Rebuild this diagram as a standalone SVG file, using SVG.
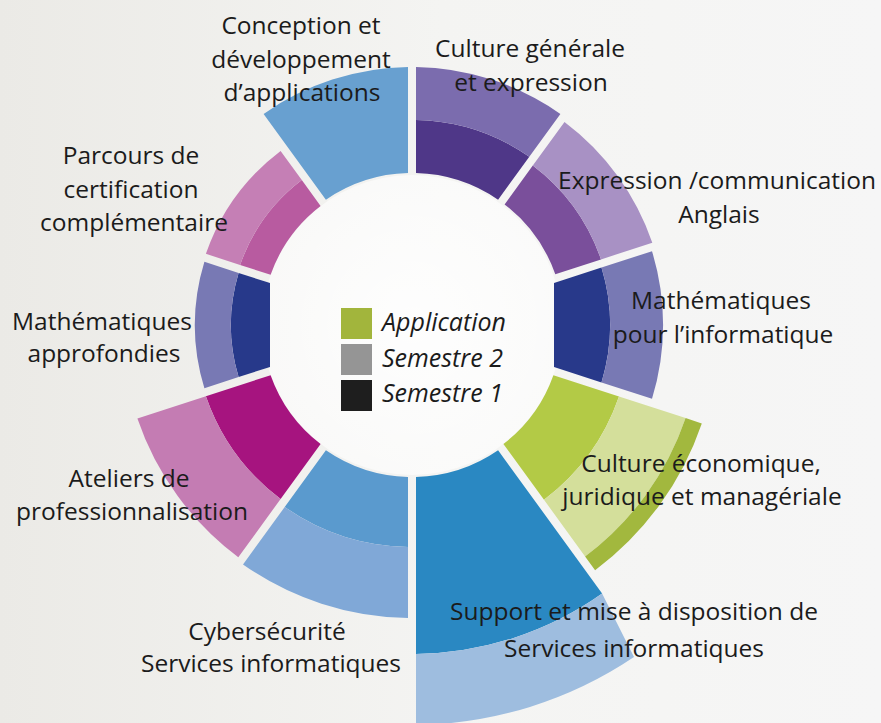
<svg xmlns="http://www.w3.org/2000/svg" width="881" height="723" viewBox="0 0 881 723">
<defs>
<linearGradient id="bg" x1="0" y1="0" x2="1" y2="0">
<stop offset="0" stop-color="#ebeae6"/>
<stop offset="0.5" stop-color="#f4f4f2"/>
<stop offset="1" stop-color="#f6f6f6"/>
</linearGradient>
<radialGradient id="hole" cx="0.5" cy="0.5" r="0.5">
<stop offset="0" stop-color="#ffffff" stop-opacity="0.9"/>
<stop offset="1" stop-color="#ffffff" stop-opacity="0.6"/>
</radialGradient>
</defs>
<style>
.lbl{font-family:"Open Sans","Liberation Sans",sans-serif;font-size:24.5px;fill:#1b1b1b;text-anchor:middle}
.leg{font-family:"Open Sans","Liberation Sans",sans-serif;font-size:25px;font-style:italic;fill:#1b1b1b}
</style>
<rect width="881" height="723" fill="url(#bg)"/>
<circle cx="412" cy="325" r="150" fill="url(#hole)"/>

<g id="conception">
<path d="M325.9,199.7 L263.6,113.9 A258,258 0 0 1 408,67 L408,173 A152,152 0 0 0 325.9,199.7 Z" fill="#68a0d0"/>
<text class="lbl" x="301" y="34">Conception et</text>
<text class="lbl" x="301" y="68">développement</text>
<text class="lbl" x="302" y="101">d’applications</text>
</g>

<g id="culture-generale">
<path d="M416,173 L416,120 A205,205 0 0 1 529.3,156.8 L498.1,199.7 A152,152 0 0 0 416,173 Z" fill="#4f3788"/>
<path d="M416,120 L416,67 A258,258 0 0 1 560.4,113.9 L529.3,156.8 A205,205 0 0 0 416,120 Z" fill="#7b6cae"/>
<text class="lbl" x="530" y="57">Culture générale</text>
<text class="lbl" x="531" y="91">et expression</text>
</g>

<g id="expression-anglais">
<path d="M504.6,204.4 L532.8,165.5 A200,200 0 0 1 601.0,259.4 L555.3,274.2 A152,152 0 0 0 504.6,204.4 Z" fill="#7a4f9b"/>
<path d="M532.8,165.5 L564.5,121.9 A254,254 0 0 1 652.3,242.7 L601.0,259.4 A200,200 0 0 0 532.8,165.5 Z" fill="#a891c4"/>
<text class="lbl" x="717" y="189">Expression /communication</text>
<text class="lbl" x="719" y="223">Anglais</text>
</g>

<g id="maths-informatique">
<path d="M554.0,283.1 L601.5,267.6 A198,198 0 0 1 601.5,382.4 L554.0,366.9 Z" fill="#28398a"/>
<path d="M601.5,267.6 L652.0,251.2 A251,251 0 0 1 652.0,398.8 L601.5,382.4 A198,198 0 0 0 601.5,267.6 Z" fill="#7879b4"/>
<text class="lbl" x="721" y="309">Mathématiques</text>
<text class="lbl" x="723" y="343">pour l’informatique</text>
</g>

<g id="culture-economique">
<path d="M553.4,375.2 L619.0,396.5 A219,219 0 0 1 544.0,499.8 L503.4,444.0 A150,150 0 0 0 553.4,375.2 Z" fill="#b3ca46"/>
<path d="M619.0,396.5 L685.6,418.1 A289,289 0 0 1 585.1,556.5 L544.0,499.8 A219,219 0 0 0 619.0,396.5 Z" fill="#d4df9b"/>
<path d="M685.6,418.1 L701.8,423.4 A306,306 0 0 1 595.1,570.2 L585.1,556.5 A289,289 0 0 0 685.6,418.1 Z" fill="#a2b83e"/>
<text class="lbl" x="701" y="472">Culture économique,</text>
<text class="lbl" x="702" y="505">juridique et managériale</text>
</g>

<g id="support-services">
<path d="M498.1,450.3 L602.1,593.5 A329,329 0 0 1 416,654 L416,477 A152,152 0 0 0 498.1,450.3 Z" fill="#2a88c2"/>
<path d="M602.1,593.5 L634,657 A400,400 0 0 1 416,725 L416,654 A329,329 0 0 0 602.1,593.5 Z" fill="#9ebddf"/>
<text class="lbl" x="634" y="620">Support et mise à disposition de</text>
<text class="lbl" x="634" y="657">Services informatiques</text>
</g>

<g id="cybersecurite">
<path d="M408,477 L408,547 A222,222 0 0 1 284.7,507.0 L325.9,450.3 A152,152 0 0 0 408,477 Z" fill="#5a9ace"/>
<path d="M408,547 L408,618 A293,293 0 0 1 243.0,564.4 L284.7,507.0 A222,222 0 0 0 408,547 Z" fill="#80a8d7"/>
<text class="lbl" x="267" y="640">Cybersécurité</text>
<text class="lbl" x="271" y="672">Services informatiques</text>
</g>

<g id="ateliers">
<path d="M320.6,444.0 L280.6,499.0 A218,218 0 0 1 205.9,396.2 L270.6,375.2 A150,150 0 0 0 320.6,444.0 Z" fill="#a6147f"/>
<path d="M280.6,499.0 L238.3,557.3 A290,290 0 0 1 137.4,418.4 L205.9,396.2 A218,218 0 0 0 280.6,499.0 Z" fill="#c47cb3"/>
<text class="lbl" x="129" y="487">Ateliers de</text>
<text class="lbl" x="132" y="520">professionnalisation</text>
</g>

<g id="maths-approfondies">
<path d="M270.0,366.9 L238.6,377.1 A181,181 0 0 1 238.6,272.9 L270.0,283.1 Z" fill="#27398a"/>
<path d="M238.6,377.1 L204.4,388.3 A217,217 0 0 1 204.4,261.7 L238.6,272.9 A181,181 0 0 0 238.6,377.1 Z" fill="#7879b4"/>
<text class="lbl" x="102" y="330">Mathématiques</text>
<text class="lbl" x="104" y="362">approfondies</text>
</g>

<g id="parcours-certification">
<path d="M270.6,274.8 L240.1,265.0 A182,182 0 0 1 301.8,180.1 L320.6,206.0 A150,150 0 0 0 270.6,274.8 Z" fill="#b85ba0"/>
<path d="M240.1,265.0 L205.9,253.8 A218,218 0 0 1 280.6,151.0 L301.8,180.1 A182,182 0 0 0 240.1,265.0 Z" fill="#c57fb5"/>
<text class="lbl" x="131" y="164">Parcours de</text>
<text class="lbl" x="131" y="198">certification</text>
<text class="lbl" x="134" y="231">complémentaire</text>
</g>

<g id="legend">
<rect x="341" y="308" width="31" height="31" fill="#a2b53c"/>
<rect x="341" y="344" width="31" height="31" fill="#959595"/>
<rect x="341" y="380" width="31" height="31" fill="#1e1e1e"/>
<text class="leg" x="382" y="331">Application</text>
<text class="leg" x="382" y="367">Semestre 2</text>
<text class="leg" x="382" y="402">Semestre 1</text>
</g>

<g id="connectors"/>
</svg>
